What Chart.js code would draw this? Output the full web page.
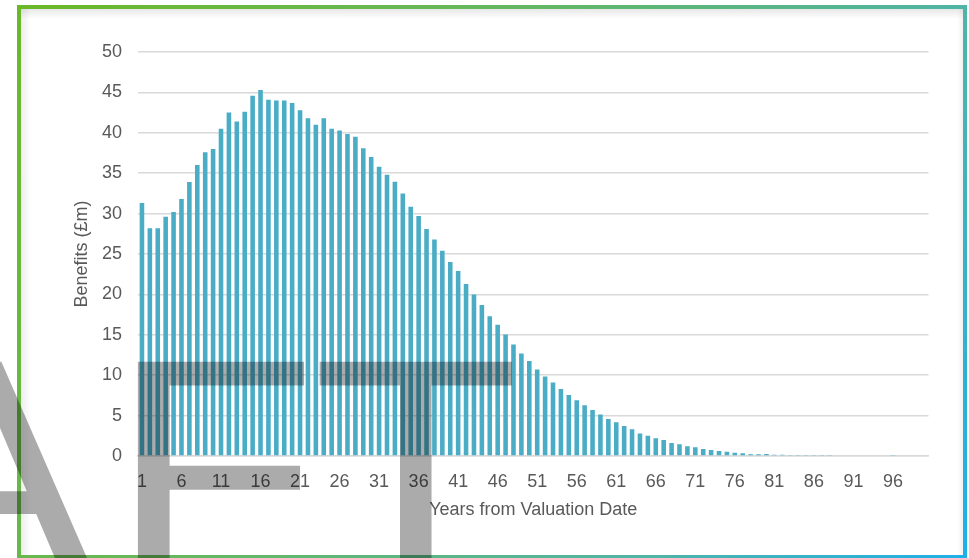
<!DOCTYPE html>
<html>
<head>
<meta charset="utf-8">
<script src="https://cdn.jsdelivr.net/npm/chart.js@4"></script>
<style>
  html, body { margin: 0; padding: 0; background: #fff; }
  #wrap { width: 969px; height: 558px; position: relative; }
</style>
</head>
<body>
<div id="wrap"><canvas id="myChart" width="969" height="558"></canvas></div>
<script>
  // years 1..100, benefits in £m
  var years = [];
  for (var i = 1; i <= 100; i++) years.push(String(i));

  var benefits = [
    31.3, 28.2, 28.2, 29.6, 30.2, 31.8, 33.9, 36.0, 37.6, 38.0,
    40.5, 42.5, 41.4, 42.6, 44.6, 45.3, 44.1, 44.0, 44.0, 43.7,
    42.8, 41.8, 41.0, 41.8, 40.5, 40.3, 39.85, 39.5, 38.1, 37.0,
    35.8, 34.8, 33.95, 32.5, 30.85, 29.7, 28.1, 26.8, 25.4, 24.0,
    22.9, 21.3, 20.0, 18.7, 17.3, 16.25, 15.05, 13.8, 12.7, 11.75,
    10.7, 9.85, 9.1, 8.3, 7.55, 6.9, 6.27, 5.69, 5.15, 4.58,
    4.17, 3.71, 3.3, 2.8, 2.51, 2.19, 1.98, 1.6, 1.44, 1.2,
    1.07, 0.87, 0.74, 0.62, 0.54, 0.41, 0.33, 0.21, 0.21, 0.24,
    0.15, 0.14, 0.13, 0.13, 0.12, 0.12, 0.11, 0.11, 0.1, 0.1,
    0.1, 0.09, 0.09, 0.08, 0.08, 0.07, null, null, null, null
  ];

  var yTicks = [0, 5, 10, 15, 20, 25, 30, 35, 40, 45, 50];

  var textGrey = '#595959';
  var gridGrey = '#d9d9d9';

  // gradient frame round the picture + DRAFT stamp
  var framePlugin = {
    id: 'frame',
    beforeDraw: function(chart) {
      var ctx = chart.ctx;
      ctx.save();
      ctx.fillStyle = '#fff';
      ctx.fillRect(0, 0, chart.width, chart.height);
      // soft shading just inside the frame
      var gt = ctx.createLinearGradient(0, 9, 0, 19);
      gt.addColorStop(0, 'rgba(0,0,0,0.09)');
      gt.addColorStop(1, 'rgba(0,0,0,0)');
      ctx.fillStyle = gt;
      ctx.fillRect(21, 9, 942, 10);
      var gl = ctx.createLinearGradient(21, 0, 31, 0);
      gl.addColorStop(0, 'rgba(0,0,0,0.07)');
      gl.addColorStop(1, 'rgba(0,0,0,0)');
      ctx.fillStyle = gl;
      ctx.fillRect(21, 9, 10, 548);
      var gr = ctx.createLinearGradient(963, 0, 957, 0);
      gr.addColorStop(0, 'rgba(0,0,0,0.05)');
      gr.addColorStop(1, 'rgba(0,0,0,0)');
      ctx.fillStyle = gr;
      ctx.fillRect(957, 9, 6, 548);

      var g = ctx.createLinearGradient(0, 0, 969, 558);
      g.addColorStop(0, '#6bb825');
      g.addColorStop(0.375, '#66b85c');
      g.addColorStop(0.75, '#4fb5a6');
      g.addColorStop(1, '#1cb0ea');
      ctx.strokeStyle = g;
      ctx.lineWidth = 4;
      ctx.strokeRect(19, 7, 946, 550);
      ctx.restore();
    },
    afterDraw: function(chart) {
      var ctx = chart.ctx;
      ctx.save();
      ctx.translate(0, 577);
      ctx.scale(1, 0.92);
      ctx.font = '340px "Liberation Sans", Arial, sans-serif';
      ctx.fillStyle = 'rgba(0,0,0,0.33)';
      ctx.textBaseline = 'alphabetic';
      ctx.textAlign = 'right';
      ctx.fillText('DRA', 96, 0);
      ctx.textAlign = 'left';
      ctx.fillText('F', 110, 0);
      ctx.fillText('T', 312, 0);
      ctx.restore();
    }
  };

  const ctx = document.getElementById('myChart').getContext('2d');
  const myChart = new Chart(ctx, {
    type: 'bar',
    data: {
      labels: years,
      datasets: [{
        label: 'Benefits',
        data: benefits,
        backgroundColor: '#4bacc6',
        borderWidth: 0,
        barPercentage: 0.58,
        categoryPercentage: 1
      }]
    },
    options: {
      responsive: false,
      animation: false,
      layout: { padding: { left: 0, right: 40.5, top: 52, bottom: 0 } },
      plugins: {
        legend: { display: false },
        tooltip: { enabled: false }
      },
      scales: {
        x: {
          grid: { display: false, drawTicks: false },
          border: { display: true, color: gridGrey, width: 1.5 },
          ticks: {
            autoSkip: false,
            maxRotation: 0,
            minRotation: 0,
            padding: 15,
            color: textGrey,
            font: { family: '"Liberation Sans", Arial, sans-serif', size: 18 },
            callback: function(value, index) {
              return index % 5 === 0 ? years[index] : '';
            }
          },
          title: {
            display: true,
            text: 'Years from Valuation Date',
            color: textGrey,
            font: { family: '"Liberation Sans", Arial, sans-serif', size: 18 },
            padding: { top: 0, bottom: 37 }
          },
          afterFit: function(scale) { scale.height = 102; }
        },
        y: {
          min: 0,
          max: 50,
          afterBuildTicks: function(scale) {
            scale.ticks = yTicks.map(function(v) { return { value: v }; });
          },
          grid: { color: gridGrey, lineWidth: 1.5, drawTicks: false },
          border: { display: false },
          ticks: {
            padding: 16,
            color: textGrey,
            font: { family: '"Liberation Sans", Arial, sans-serif', size: 18 }
          },
          title: {
            display: true,
            text: 'Benefits (£m)',
            color: textGrey,
            font: { family: '"Liberation Sans", Arial, sans-serif', size: 18 },
            padding: { top: 71, bottom: 0 }
          },
          afterFit: function(scale) { scale.width = 138; }
        }
      }
    },
    plugins: [framePlugin]
  });
</script>
</body>
</html>
